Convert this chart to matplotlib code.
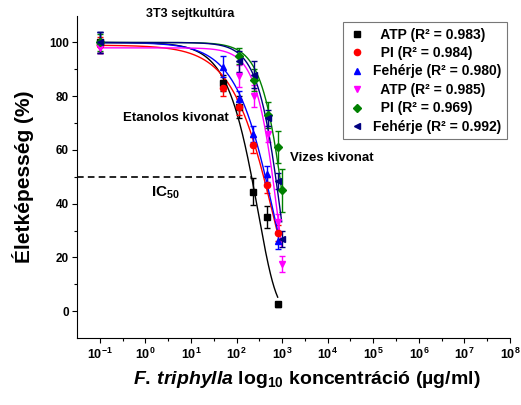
import numpy as np
import matplotlib
matplotlib.use("Agg")
import matplotlib.pyplot as plt
from matplotlib.ticker import FixedLocator, NullFormatter, LogFormatterSciNotation
from matplotlib.lines import Line2D

plt.rcParams['font.family'] = ['Liberation Sans', 'DejaVu Sans']
plt.rcParams['font.weight'] = 'bold'
plt.rcParams['mathtext.fontset'] = 'custom'
plt.rcParams['mathtext.rm'] = 'Liberation Sans:bold'
plt.rcParams['mathtext.bf'] = 'Liberation Sans:bold'
plt.rcParams['mathtext.it'] = 'Liberation Sans:italic:bold'
plt.rcParams['mathtext.default'] = 'bf'

# concentrations (ug/ml)
conc_eth = np.array([0.1, 50, 115, 235, 470, 800])
conc_wat = np.array([0.1, 115, 240, 480, 830, 980])

# viability (%) and SD
atp_eth = np.array([100, 85, 76, 44.5, 35, 2.5])
atp_eth_sd = np.array([4, 3, 4, 5, 4, 1])
pi_eth = np.array([99, 83, 76, 62, 47, 29])
pi_eth_sd = np.array([3, 3, 3, 3, 3, 3])
feh_eth = np.array([100, 91, 79, 66, 51, 26])
feh_eth_sd = np.array([4, 4, 3, 3, 3, 3])
atp_wat = np.array([98, 87.5, 80, 66, 33, 17.5])
atp_wat_sd = np.array([2, 4, 4, 3, 3, 3])
pi_wat = np.array([100, 95, 86, 73, 61, 45])
pi_wat_sd = np.array([3, 3, 4, 5, 6, 8])
feh_wat = np.array([100, 93, 88, 72, 48.5, 27])
feh_wat_sd = np.array([4, 4, 5, 3, 3, 3])

# fitted decay curves: y = top * exp(-ln2 * (c / ic50) ** n)
fit_top = [100, 99, 100, 98, 100, 100]
fit_ic50 = [214, 400, 430, 630, 890, 720]
fit_n = [1.1, 0.83, 0.9, 1.6, 1.5, 1.5]

labels = ['  ATP (R² = 0.983)', '  PI (R² = 0.984)', 'Fehérje (R² = 0.980)',
          '  ATP (R² = 0.985)', '  PI (R² = 0.969)', 'Fehérje (R² = 0.992)']
colors = ['black', 'red', 'blue', '#ff00ff', '#008000', '#000080']
markers = ['s', 'o', '^', 'v', 'D', '<']

series = [(conc_eth, atp_eth, atp_eth_sd), (conc_eth, pi_eth, pi_eth_sd),
          (conc_eth, feh_eth, feh_eth_sd), (conc_wat, atp_wat, atp_wat_sd),
          (conc_wat, pi_wat, pi_wat_sd), (conc_wat, feh_wat, feh_wat_sd)]


def decay(c, top, ic50, n):
    return top * np.exp(-np.log(2) * (c / ic50) ** n)


fig = plt.figure(figsize=(5.21, 4.05), dpi=100)
ax = fig.add_axes([77 / 521, 67 / 405, 433 / 521, 322.4 / 405])

for (c, y, sd), col, m, top, ic50, n in zip(series, colors, markers,
                                            fit_top, fit_ic50, fit_n):
    xs = np.logspace(np.log10(c[0]), np.log10(c[-1]), 400)
    ax.plot(xs, decay(xs, top, ic50, n), color=col, lw=1.0)
    ax.errorbar(c, y, yerr=sd, fmt=m, color=col, ms=4.5, capsize=2.5,
                elinewidth=1, capthick=1, lw=0)

# IC50 line up to the ethanolic ATP curve
x50 = fit_ic50[0] * (np.log(fit_top[0] / 50) / np.log(2)) ** (1 / fit_n[0])
ax.plot([10 ** -1.5, x50], [50, 50], color='black', lw=1.2, ls=(0, (4, 2.5)))

ax.set_xscale('log')
ax.set_xlim(10 ** -1.5, 10 ** 8)
ax.set_ylim(-10, 110)
ax.xaxis.set_major_locator(FixedLocator([10.0 ** k for k in range(-1, 9)]))
ax.xaxis.set_major_formatter(LogFormatterSciNotation())
ax.xaxis.set_minor_locator(FixedLocator([10.0 ** (k + 0.5) for k in range(-1, 8)]))
ax.xaxis.set_minor_formatter(NullFormatter())
ax.yaxis.set_major_locator(FixedLocator([0, 20, 40, 60, 80, 100]))
ax.yaxis.set_minor_locator(FixedLocator([10, 30, 50, 70, 90]))
ax.tick_params(which='major', length=3.5, width=0.8, labelsize=8.5, pad=2.5)
ax.tick_params(which='minor', length=2, width=0.8)
ax.tick_params(axis='x', labelsize=9)
for s in ['top', 'right']:
    ax.spines[s].set_visible(False)

ax.set_ylabel('Életképesség (%)', fontsize=15, fontweight='bold')
ax.yaxis.set_label_coords(-0.1, 0.5)
ax.set_xlabel(r'$\mathit{F.}$$\,$$\mathit{triphylla}$ log$_{\mathbf{10}}$ koncentráció (µg/ml)',
              fontsize=14, fontweight='bold')
ax.xaxis.set_label_coords(0.53, -0.095)

fig.text(190 / 521, 1 - 14 / 405, '3T3 sejtkultúra', fontsize=9,
         fontweight='bold', ha='center', va='center')
ax.text(10 ** 0.66, 72, 'Etanolos kivonat', fontsize=9.5, fontweight='bold',
        ha='center', va='center')
ax.text(10 ** 4.1, 57, 'Vizes kivonat', fontsize=9.5, fontweight='bold',
        ha='center', va='center')
ax.text(10 ** 0.43, 44, 'IC$_{50}$', fontsize=11, fontweight='bold',
        ha='center', va='center')

handles = [Line2D([], [], ls='none', marker=m, color=c, ms=4.5)
           for m, c in zip(markers, colors)]
leg = ax.legend(handles, labels, loc='upper left', bbox_to_anchor=(0.614, 0.98),
                fontsize=10, frameon=True, fancybox=False, edgecolor='#555555',
                labelspacing=0.32, handletextpad=0.6, handlelength=1.2,
                borderpad=0.4, borderaxespad=0)
leg.get_frame().set_linewidth(0.8)

fig.savefig('out.png', dpi=100)
